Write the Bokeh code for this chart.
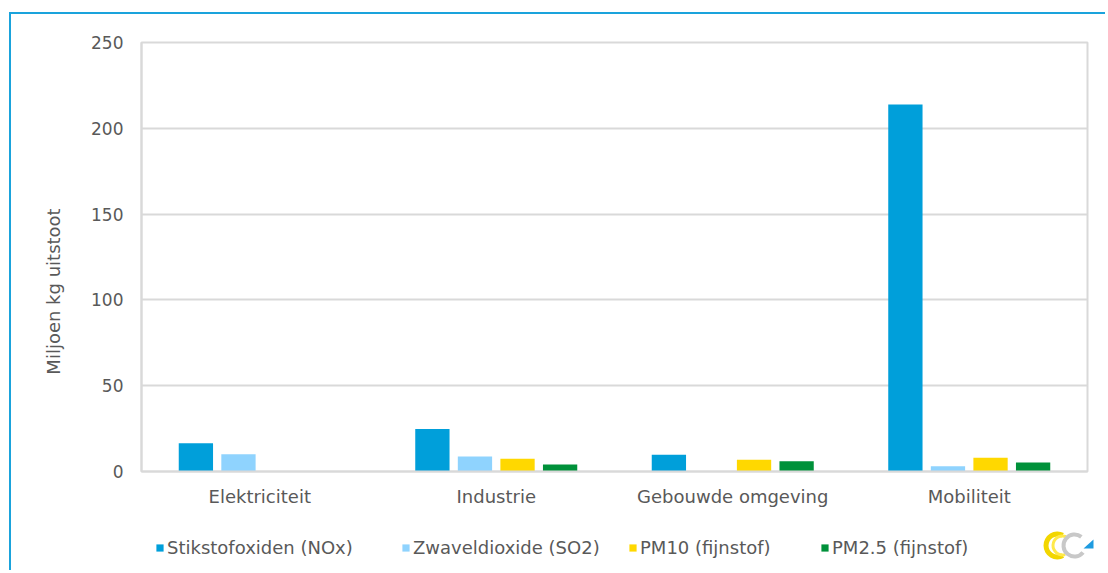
import math
from bokeh.plotting import figure
from bokeh.models import FactorRange, Legend, LegendItem, ColumnDataSource, FixedTicker
from bokeh.core.properties import value
from bokeh.transform import dodge
from bokeh.embed import file_html
from bokeh.resources import INLINE

categories = ["Elektriciteit", "Industrie", "Gebouwde omgeving", "Mobiliteit"]
series_names = ["Stikstofoxiden (NOx)", "Zwaveldioxide (SO2)", "PM10 (fijnstof)", "PM2.5 (fijnstof)"]
nox = [16.5, 24.7, 9.7, 213.9]
so2 = [10.1, 8.7, 0, 3.1]
pm10 = [0, 7.4, 6.8, 8.0]
pm25 = [0, 4.1, 6.0, 5.2]
y_ticks = [0, 50, 100, 150, 200, 250]
y_title = "Miljoen kg uitstoot"

colors = ["#009fda", "#8fd3fe", "#ffd800", "#00913a"]
FONT = "DejaVu Sans"
TXT = "#595959"
GRID = "#d9d9d9"
BORDER = "#1aa3dc"

src = ColumnDataSource(dict(cat=categories, nox=nox, so2=so2, pm10=pm10, pm25=pm25))

p = figure(x_range=FactorRange(factors=categories, range_padding=0), y_range=(0, 250),
           width=1096, height=558, output_backend="svg", toolbar_location=None,
           min_border_left=130, min_border_right=20, min_border_top=28, min_border_bottom=101)
p.styles = {"border-left": "2px solid " + BORDER, "border-top": "2px solid " + BORDER,
            "margin-top": "12px", "margin-left": "9px"}

offsets = [-0.27, -0.09, 0.09, 0.27]
fields = ["nox", "so2", "pm10", "pm25"]
for f, off, c in zip(fields, offsets, colors):
    p.vbar(x=dodge("cat", off, range=p.x_range), top=f, width=0.145, source=src,
           fill_color=c, line_color=None)

p.outline_line_color = GRID
p.outline_line_width = 2
p.xgrid.grid_line_color = None
p.ygrid.grid_line_color = GRID
p.ygrid.grid_line_width = 2
p.yaxis.ticker = FixedTicker(ticks=y_ticks)

for ax in (p.xaxis[0], p.yaxis[0]):
    ax.axis_line_color = GRID
    ax.axis_line_width = 2
    ax.major_tick_line_color = None
    ax.minor_tick_line_color = None
    ax.major_tick_out = 0
    ax.major_tick_in = 0
    ax.major_label_text_font = FONT
    ax.major_label_text_font_size = "18px"
    ax.major_label_text_color = TXT

p.yaxis.major_label_text_font_size = "17px"
p.yaxis.major_label_standoff = 18
p.xaxis.major_label_standoff = 14

# y-axis title (placed slightly below the plot centre, as in the reference)
yt = figure(width=30, height=200, x_range=(0, 1), y_range=(0, 1), output_backend="svg",
            toolbar_location=None, min_border=0, outline_line_color=None)
yt.axis.visible = False
yt.grid.visible = False
yt.styles = {"position": "absolute", "left": "38px", "top": "191px"}
yt.text(x=[0.5], y=[0.5], text=[y_title], angle=math.pi / 2, text_align="center",
        text_baseline="middle", text_font=value(FONT), text_font_size="18px", text_color=TXT)

# legend strip (separate small canvas placed under the chart)
leg = figure(width=860, height=24, x_range=(0, 1), y_range=(0, 1), output_backend="svg",
             toolbar_location=None, min_border=0, outline_line_color=None)
leg.axis.visible = False
leg.grid.visible = False
leg.styles = {"position": "absolute", "left": "153px", "top": "536px"}
legend_x = [2, 248, 475, 667]
for name, c, lx in zip(series_names, colors, legend_x):
    r = leg.vbar(x=[-5], top=[-5], width=0.1, fill_color=c, line_color=None)
    lg = Legend(items=[LegendItem(label=name, renderers=[r])], location=(lx, 2),
                label_text_font=FONT, label_text_font_size="18px", label_text_color=TXT,
                glyph_width=9, glyph_height=9, label_standoff=3,
                padding=0, margin=0, border_line_color=None, background_fill_alpha=0)
    leg.add_layout(lg, "center")

# small decorative logo (bottom right)
logo = figure(width=56, height=40, x_range=(0, 56), y_range=(0, 40), output_backend="svg",
              toolbar_location=None, min_border=0, outline_line_color=None)
logo.axis.visible = False
logo.grid.visible = False
logo.styles = {"position": "absolute", "left": "1042px", "top": "524px"}
logo.annular_wedge(x=[15], y=[19], inner_radius=9, outer_radius=14, start_angle=1.1, end_angle=5.2,
                   fill_color="#f2d600", line_color=None)
logo.annular_wedge(x=[20], y=[19], inner_radius=8, outer_radius=11, start_angle=1.2, end_angle=5.0,
                   fill_color="#ffe94a", line_color=None)
logo.annular_wedge(x=[32], y=[19], inner_radius=9, outer_radius=13, start_angle=0.9, end_angle=5.6,
                   fill_color="#c8c8c8", line_color=None)
logo.patch(x=[41, 51, 51], y=[16, 16, 25], fill_color="#1e9be0", line_color=None)

open("out.html", "w").write(file_html([p, yt, leg, logo], INLINE))
